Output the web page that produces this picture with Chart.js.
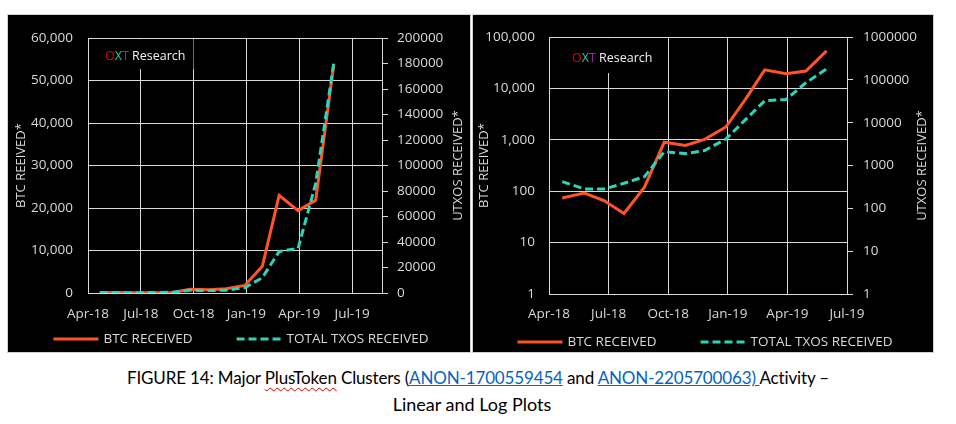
<!DOCTYPE html>
<html>
<head>
<meta charset="utf-8">
<script src="https://cdn.jsdelivr.net/npm/chart.js@4.4.0/dist/chart.umd.min.js"></script>
<style>
  body { margin: 0; background: #fff; width: 956px; height: 424px; position: relative; overflow: hidden; }
  .panel { position: absolute; top: 14px; background: #000; border: 1px solid #d0d0d0; }
  #p1 { left: 7px; width: 462px; height: 337px; }
  #p2 { left: 472px; width: 460px; height: 337px; }
  canvas { display: block; }
  .caption { position: absolute; left: 0; top: 365px; width: 956px; text-align: center;
    font-family: Lato, "Open Sans", sans-serif; line-height: 26px; color: #000; }
  .caption .l1 { font-size: 17px; letter-spacing: -0.15px; }
  .caption .l2 { font-size: 18px; margin-left: -12px; }
  .caption a { color: #0563c1; text-decoration: underline; }
  .spell { text-decoration: underline wavy #e00000; text-decoration-thickness: 1px; text-underline-offset: 3px; }
</style>
</head>
<body>
<div class="panel" id="p1"><canvas id="linearChart" width="462" height="337"></canvas></div>
<div class="panel" id="p2"><canvas id="logChart" width="460" height="337"></canvas></div>
<div class="caption">
  <span class="l1">FIGURE 14: Major <span class="spell">PlusToken</span> Clusters (<a>ANON-1700559454</a> and <a>ANON-2205700063) </a>Activity –</span><br>
  <span class="l2">Linear and Log Plots</span>
</div>
<script>
  // x axis ticks (months counted from Apr-18)
  const tickMonths = [0, 3, 6, 9, 12, 15];
  const tickLabels = ['Apr-18', 'Jul-18', 'Oct-18', 'Jan-19', 'Apr-19', 'Jul-19'];

  // one point per month
  const pointDates = ['2018-04-21', '2018-05-25', '2018-06-24', '2018-07-25', '2018-08-26', '2018-09-25',
                      '2018-10-28', '2018-11-26', '2018-12-29', '2019-01-29', '2019-02-25', '2019-03-30',
                      '2019-04-29', '2019-05-31'];
  const btcReceived = [74, 92, 66, 37, 120, 900, 780, 1020, 1780, 6300, 23000, 19400, 21800, 54000];
  const txosReceived = [420, 285, 282, 385, 550, 2100, 1900, 2250, 4150, 12000, 32500, 35000, 86000, 181000];

  const logBtcTicks = [1, 10, 100, 1000, 10000, 100000];
  const logTxoTicks = [1, 10, 100, 1000, 10000, 100000, 1000000];

  const textColor = '#d9d9d9';
  const gridColor = '#d9d9d9';
  const red = '#ff5526';
  const teal = '#2fd3b9';

  Chart.defaults.font.family = '"Open Sans", sans-serif';
  Chart.defaults.font.size = 13.5;
  Chart.defaults.color = textColor;

  function monthsFromStart(d) {
    const [y, m, day] = d.split('-').map(Number);
    const days = new Date(y, m, 0).getDate();
    return (y - 2018) * 12 + (m - 4) + (day - 1) / days;
  }
  const xs = pointDates.map(monthsFromStart);

  // "OXT Research" stamp with black box behind it
  const oxtLabel = {
    id: 'oxtLabel',
    beforeDatasetsDraw(chart, args, opts) {
      const {ctx, chartArea} = chart;
      const parts = [['O', '#e00000'], ['X', '#2cc4b0'], ['T', '#8e2aa6'], [' Research', '#f2f2f2']];
      ctx.save();
      ctx.font = '12.5px "Open Sans"';
      ctx.textBaseline = 'middle';
      let x = chartArea.left + opts.dx;
      const w = parts.reduce((s, p) => s + ctx.measureText(p[0]).width, 0);
      ctx.fillStyle = '#000';
      ctx.fillRect(x - 8, chartArea.top + 1, w + 16, opts.boxH);
      parts.forEach(([t, c]) => {
        ctx.fillStyle = c;
        ctx.fillText(t, x, chartArea.top + opts.dy);
        x += ctx.measureText(t).width;
      });
      ctx.restore();
    }
  };

  // right axis title reads bottom to top, like the left one
  const rightTitle = {
    id: 'rightTitle',
    afterDraw(chart, args, opts) {
      const {ctx, chartArea} = chart;
      ctx.save();
      ctx.translate(opts.x, (chartArea.top + chartArea.bottom) / 2);
      ctx.rotate(-Math.PI / 2);
      ctx.font = '13px "Open Sans"';
      ctx.fillStyle = textColor;
      ctx.textAlign = 'center';
      ctx.textBaseline = 'middle';
      ctx.fillText(opts.text, 0, 0);
      ctx.restore();
    }
  };

  const lineLegend = {
    id: 'lineLegend',
    afterDraw(chart, args, opts) {
      const {ctx} = chart;
      ctx.save();
      ctx.font = '13.5px "Open Sans"';
      ctx.textBaseline = 'middle';
      const items = chart.data.datasets.map(ds => ({ds, w: ctx.measureText(ds.label).width}));
      const lineLen = 45, gap = 5, itemGap = 44;
      const total = items.reduce((s, it) => s + lineLen + gap + it.w, 0) + itemGap * (items.length - 1);
      let x = chart.width / 2 - total / 2 + 2;
      items.forEach(({ds, w}) => {
        ctx.strokeStyle = ds.borderColor;
        ctx.lineWidth = ds.borderWidth;
        ctx.setLineDash(ds.borderDash || []);
        ctx.beginPath();
        ctx.moveTo(x, opts.y);
        ctx.lineTo(x + lineLen, opts.y);
        ctx.stroke();
        ctx.setLineDash([]);
        ctx.fillStyle = textColor;
        ctx.fillText(ds.label, x + lineLen + gap, opts.y);
        x += lineLen + gap + w + itemGap;
      });
      ctx.restore();
    }
  };

  function datasets() {
    return [{
      label: 'BTC RECEIVED',
      data: btcReceived.map((v, i) => ({x: xs[i], y: v})),
      borderColor: red,
      borderWidth: 3,
      yAxisID: 'y',
      order: 2
    }, {
      label: 'TOTAL TXOS RECEIVED',
      data: txosReceived.map((v, i) => ({x: xs[i], y: v})),
      borderColor: teal,
      borderWidth: 3,
      borderDash: [8, 4],
      yAxisID: 'y2',
      order: 1
    }];
  }

  function xScale(max, padding, height) {
    return {
      type: 'linear',
      min: 0,
      max: max,
      afterBuildTicks: s => { s.ticks = tickMonths.map(v => ({value: v})); },
      afterFit: s => { s.height = height; },
      ticks: {
        callback: v => tickLabels[tickMonths.indexOf(v)],
        padding: padding,
        maxRotation: 0,
        autoSkip: false
      },
      grid: {color: gridColor, drawTicks: false},
      border: {color: gridColor}
    };
  }

  const linearChart = new Chart(document.getElementById('linearChart'), {
    type: 'line',
    data: {datasets: datasets()},
    options: {
      responsive: false,
      animation: false,
      locale: 'en-US',
      layout: {padding: {top: 17, left: 0, right: 0, bottom: 0}},
      elements: {point: {radius: 0}, line: {tension: 0}},
      scales: {
        x: xScale(16.7, 13, 59),
        y: {
          position: 'left',
          min: 0,
          max: 60000,
          afterFit: s => { s.width = 80; },
          ticks: {stepSize: 10000, padding: 15},
          grid: {color: gridColor, drawTicks: false},
          border: {color: gridColor},
          title: {display: true, text: 'BTC REEIVED*', font: {size: 13}, padding: {top: 5, bottom: 0}}
        },
        y2: {
          position: 'right',
          min: 0,
          max: 200000,
          afterFit: s => { s.width = 88; },
          ticks: {stepSize: 20000, padding: 9, callback: v => String(v)},
          grid: {drawOnChartArea: false, tickLength: 6, tickColor: gridColor},
          border: {color: gridColor}
        }
      },
      plugins: {
        legend: {display: false},
        tooltip: {enabled: false},
        oxtLabel: {dx: 17, dy: 18, boxH: 30},
        rightTitle: {x: 450, text: 'UTXOS RECEIVED*'},
        lineLegend: {y: 324}
      }
    },
    plugins: [oxtLabel, rightTitle, lineLegend]
  });

  const logChart = new Chart(document.getElementById('logChart'), {
    type: 'line',
    data: {datasets: datasets()},
    options: {
      responsive: false,
      animation: false,
      locale: 'en-US',
      layout: {padding: {top: 18, left: 0, right: 0, bottom: 0}},
      elements: {point: {radius: 0}, line: {tension: 0}},
      scales: {
        x: xScale(15, 12, 58),
        y: {
          type: 'logarithmic',
          position: 'left',
          min: 1,
          max: 100000,
          afterBuildTicks: s => { s.ticks = logBtcTicks.map(v => ({value: v})); },
          afterFit: s => { s.width = 76; },
          ticks: {padding: 14, callback: v => v.toLocaleString('en-US')},
          grid: {color: gridColor, drawTicks: false},
          border: {color: gridColor},
          title: {display: true, text: 'BTC REEIVED*', font: {size: 13}, padding: {top: 3.5, bottom: 0}}
        },
        y2: {
          type: 'logarithmic',
          position: 'right',
          min: 1,
          max: 1000000,
          afterBuildTicks: s => { s.ticks = logTxoTicks.map(v => ({value: v})); },
          afterFit: s => { s.width = 86; },
          ticks: {padding: 10, callback: v => String(v)},
          grid: {drawOnChartArea: false, tickLength: 6, tickColor: gridColor},
          border: {color: gridColor}
        }
      },
      plugins: {
        legend: {display: false},
        tooltip: {enabled: false},
        oxtLabel: {dx: 23, dy: 21, boxH: 35},
        rightTitle: {x: 449, text: 'UTXOS RECEIVED*'},
        lineLegend: {y: 327}
      }
    },
    plugins: [oxtLabel, rightTitle, lineLegend]
  });
</script>
</body>
</html>
